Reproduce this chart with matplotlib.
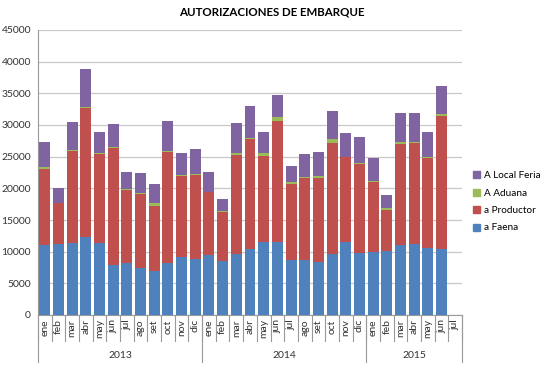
import numpy as np
import matplotlib
matplotlib.use('agg')
import matplotlib.pyplot as plt
from matplotlib.patches import Patch

plt.rcParams['font.family'] = ['Lato', 'DejaVu Sans']

months = ['ene', 'feb', 'mar', 'abr', 'may', 'jun', 'jul', 'ago', 'set', 'oct', 'nov', 'dic',
          'ene', 'feb', 'mar', 'abr', 'may', 'jun', 'jul', 'ago', 'set', 'oct', 'nov', 'dic',
          'ene', 'feb', 'mar', 'abr', 'may', 'jun', 'jul']
years = ['2013', '2014', '2015']
year_len = [12, 12, 7]

faena = [11050, 11200, 11370, 12370, 11370, 7900, 8210, 7470, 6950, 8260, 9100, 8790,
         9420, 8530, 9680, 10420, 11580, 11580, 8630, 8740, 8420, 9630, 11580, 9790,
         10000, 10100, 11050, 11260, 10630, 10420, 0]
productor = [12000, 6480, 14580, 20370, 14100, 18520, 11580, 11690, 10310, 17530, 12900, 13370,
             10000, 7790, 15580, 17370, 13580, 19050, 12110, 12940, 13260, 17530, 13370, 14100,
             11050, 6480, 15900, 15950, 14210, 21050, 0]
aduana = [250, 60, 100, 80, 60, 60, 40, 50, 370, 60, 60, 140,
          60, 60, 320, 210, 420, 580, 260, 160, 270, 630, 60, 110,
          100, 310, 310, 160, 160, 270, 0]
feria = [4000, 2260, 4420, 6020, 3370, 3620, 2700, 3160, 3050, 4830, 3570, 3960,
         3150, 1880, 4740, 5000, 3320, 3530, 2530, 3580, 3840, 4420, 3730, 4100,
         3690, 2000, 4690, 4530, 3900, 4360, 0]

c_faena = '#4F81BD'
c_prod = '#C0504D'
c_adu = '#9BBB59'
c_feria = '#8064A2'

fig = plt.figure(figsize=(5.57, 3.77), dpi=100)
ax = fig.add_axes([38/557, 1-315/377, 424/557, 285/377])

x = np.arange(len(months))
faena = np.array(faena)
productor = np.array(productor)
aduana = np.array(aduana)
feria = np.array(feria)
w = 0.8
ax.bar(x, faena, w, color=c_faena, zorder=3)
ax.bar(x, productor, w, bottom=faena, color=c_prod, zorder=3)
ax.bar(x, aduana, w, bottom=faena+productor, color=c_adu, zorder=3)
ax.bar(x, feria, w, bottom=faena+productor+aduana, color=c_feria, zorder=3)

ax.set_xlim(-0.5, len(months)-0.5)
ax.set_ylim(0, 45000)
ax.set_yticks(np.arange(0, 45001, 5000))
ax.tick_params(axis='y', length=0, labelsize=7.5, colors='#333333', pad=5)
ax.set_xticks(x)
ax.set_xticklabels(months, rotation=90, fontsize=7.5, color='#333333')
ax.tick_params(axis='x', length=0, pad=3)
ax.yaxis.grid(True, color='#c8c8c8', lw=0.9, zorder=0)
for s in ['top', 'right']:
    ax.spines[s].set_visible(False)
ax.spines['left'].set_color('#999999')
ax.spines['bottom'].set_color('#999999')

tr = ax.get_xaxis_transform()
short = -(341-315)/285
longy = -(362-315)/285
for i in range(len(months)+1):
    ax.plot([i-0.5, i-0.5], [0, short], color='#999999', lw=0.8, transform=tr, clip_on=False)
start = 0
for yr, n in zip(years, year_len):
    ax.plot([start-0.5, start-0.5], [0, longy], color='#999999', lw=0.8, transform=tr, clip_on=False)
    ax.text(start + n/2 - 0.5, -(355-315)/285, yr, transform=tr, ha='center', va='center',
            fontsize=7.5, color='#333333')
    start += n
ax.plot([start-0.5, start-0.5], [0, longy], color='#999999', lw=0.8, transform=tr, clip_on=False)

fig.text(272/557, 1-12/377, 'AUTORIZACIONES DE EMBARQUE', ha='center', va='center',
         fontsize=8.3, fontweight='bold')

handles = [Patch(color=c_feria, label='A Local Feria'),
           Patch(color=c_adu, label='A Aduana'),
           Patch(color=c_prod, label='a Productor'),
           Patch(color=c_faena, label='a Faena')]
fig.legend(handles=handles, loc='upper left', bbox_to_anchor=(469/557, 1-167/377),
           frameon=False, fontsize=7.2, handlelength=0.7, handleheight=0.7,
           handletextpad=0.4, labelspacing=0.85, borderaxespad=0)

fig.savefig('out.png', dpi=100)
